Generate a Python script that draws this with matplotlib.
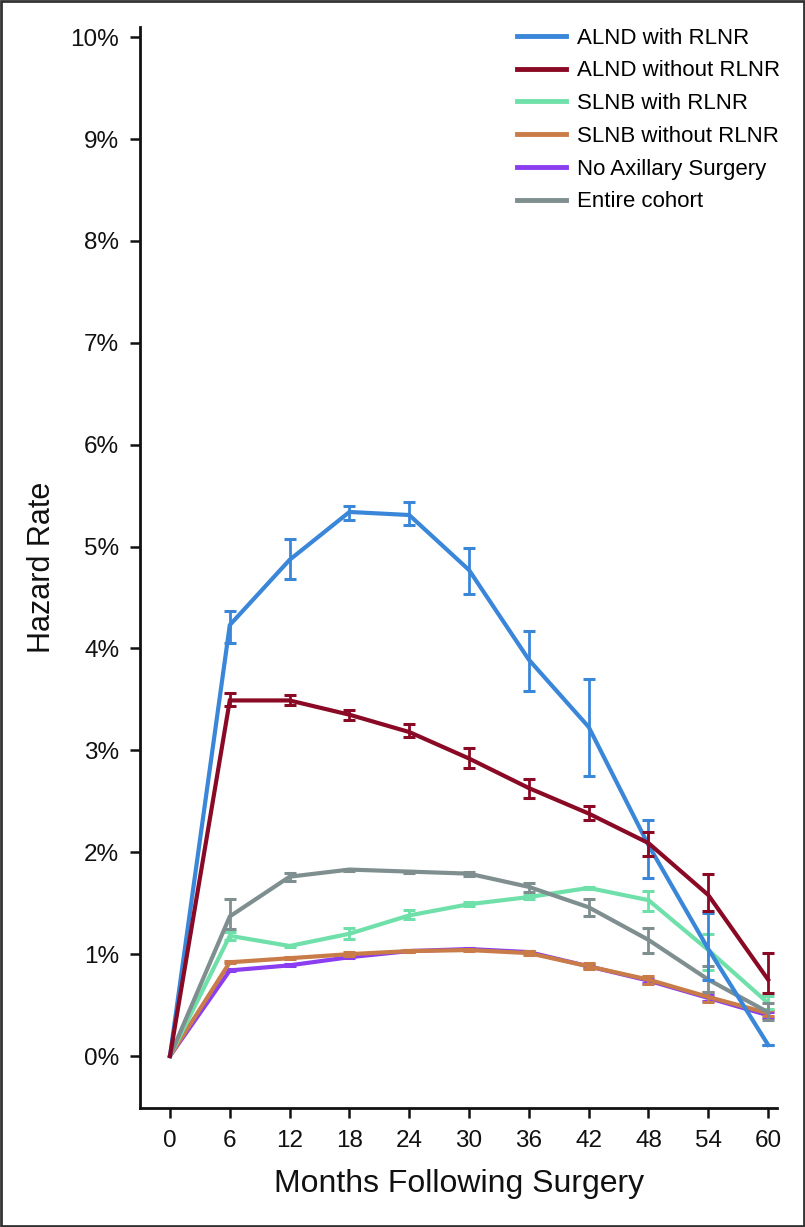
import matplotlib
matplotlib.use("Agg")
import matplotlib.pyplot as plt
from matplotlib.patches import Rectangle
import numpy as np

plt.rcParams['font.family'] = ['Liberation Sans', 'DejaVu Sans']

months = [0, 6, 12, 18, 24, 30, 36, 42, 48, 54, 60]

series_names = ["ALND with RLNR", "ALND without RLNR", "SLNB with RLNR",
                "SLNB without RLNR", "No Axillary Surgery", "Entire cohort"]

alnd_rlnr = [0.0, 4.23, 4.87, 5.34, 5.31, 4.77, 3.89, 3.23, 2.07, 1.05, 0.11]
alnd_rlnr_lo = [0.0, 4.05, 4.68, 5.26, 5.21, 4.53, 3.58, 2.75, 1.75, 0.75, 0.11]
alnd_rlnr_hi = [0.0, 4.37, 5.07, 5.40, 5.44, 4.99, 4.17, 3.70, 2.32, 1.40, 0.11]

alnd_no = [0.0, 3.49, 3.49, 3.35, 3.18, 2.92, 2.63, 2.38, 2.09, 1.58, 0.75]
alnd_no_lo = [0.0, 3.44, 3.45, 3.30, 3.13, 2.83, 2.53, 2.32, 1.96, 1.42, 0.62]
alnd_no_hi = [0.0, 3.56, 3.54, 3.40, 3.26, 3.02, 2.72, 2.45, 2.20, 1.79, 1.01]

slnb_rlnr = [0.0, 1.18, 1.08, 1.20, 1.38, 1.49, 1.56, 1.65, 1.53, 1.04, 0.52]
slnb_rlnr_lo = [0.0, 1.14, 1.07, 1.15, 1.34, 1.47, 1.54, 1.64, 1.42, 0.84, 0.46]
slnb_rlnr_hi = [0.0, 1.22, 1.09, 1.26, 1.43, 1.51, 1.58, 1.66, 1.62, 1.20, 0.59]

slnb_no = [0.0, 0.92, 0.96, 1.00, 1.03, 1.04, 1.01, 0.88, 0.75, 0.58, 0.42]
slnb_no_lo = [0.0, 0.91, 0.95, 0.98, 1.02, 1.03, 0.99, 0.85, 0.71, 0.53, 0.39]
slnb_no_hi = [0.0, 0.93, 0.97, 1.02, 1.04, 1.05, 1.03, 0.91, 0.79, 0.63, 0.45]

no_ax = [0.0, 0.84, 0.89, 0.97, 1.03, 1.05, 1.02, 0.88, 0.74, 0.57, 0.40]
no_ax_lo = [0.0, 0.83, 0.88, 0.96, 1.02, 1.04, 1.01, 0.86, 0.72, 0.54, 0.37]
no_ax_hi = [0.0, 0.85, 0.90, 0.98, 1.04, 1.06, 1.03, 0.90, 0.77, 0.60, 0.43]

entire = [0.0, 1.37, 1.76, 1.83, 1.81, 1.79, 1.66, 1.46, 1.14, 0.75, 0.43]
entire_lo = [0.0, 1.25, 1.72, 1.82, 1.80, 1.77, 1.61, 1.37, 1.01, 0.63, 0.35]
entire_hi = [0.0, 1.54, 1.80, 1.84, 1.82, 1.81, 1.70, 1.54, 1.26, 0.88, 0.52]

colors = ["#3a86d9", "#8a0a25", "#6fe0aa", "#c97c48", "#8b3df0", "#7f8e8e"]

data = [
    (alnd_rlnr, alnd_rlnr_lo, alnd_rlnr_hi),
    (alnd_no, alnd_no_lo, alnd_no_hi),
    (slnb_rlnr, slnb_rlnr_lo, slnb_rlnr_hi),
    (slnb_no, slnb_no_lo, slnb_no_hi),
    (no_ax, no_ax_lo, no_ax_hi),
    (entire, entire_lo, entire_hi),
]

fig = plt.figure(figsize=(8.05, 12.27), dpi=100)
ax = fig.add_axes([0.174, 0.097, 0.7913, 0.881])

zorders = [6, 7, 4, 3, 2, 5]
handles = []
for i, (name, (v, lo, hi)) in enumerate(zip(series_names, data)):
    v = np.array(v); lo = np.array(lo); hi = np.array(hi)
    x = np.array(months)
    mask = x > 0
    ax.errorbar(x[mask], v[mask], yerr=[v[mask] - lo[mask], hi[mask] - v[mask]],
                fmt='none', ecolor=colors[i], elinewidth=2.0, capsize=4.5,
                capthick=2.2, zorder=zorders[i])
    h, = ax.plot(x, v, color=colors[i], lw=3.0, label=name, zorder=zorders[i],
                 solid_joinstyle='miter')
    handles.append(h)

ax.set_xlim(-3, 60.9)
ax.set_ylim(-0.51, 10.1)
ax.set_xticks(months)
ax.set_xticklabels([str(m) for m in months])
yt = list(range(0, 11))
ax.set_yticks(yt)
ax.set_yticklabels([f"{t}%" for t in yt])

for s in ['top', 'right']:
    ax.spines[s].set_visible(False)
for s in ['left', 'bottom']:
    ax.spines[s].set_linewidth(2.0)
    ax.spines[s].set_color('#111111')

ax.tick_params(axis='both', direction='out', length=7, width=1.8,
               labelsize=17.5, colors='#111111', pad=8)
ax.tick_params(axis='x', pad=9)

ax.set_xlabel("Months Following Surgery", fontsize=23, color='#111111', labelpad=12)
ax.set_ylabel("Hazard Rate", fontsize=22, color='#111111', labelpad=10)

leg = ax.legend(handles=handles, loc='upper right', bbox_to_anchor=(1.036, 1.018),
                frameon=False, fontsize=16, handlelength=2.2, handletextpad=0.5,
                labelspacing=0.53)
for lh in leg.get_lines():
    lh.set_linewidth(3.5)

fig.patches.append(Rectangle((0.0015, 0.001), 0.997, 0.998, transform=fig.transFigure,
                             fill=False, edgecolor='#333333', linewidth=2.0))

fig.savefig("out.png", dpi=100)
